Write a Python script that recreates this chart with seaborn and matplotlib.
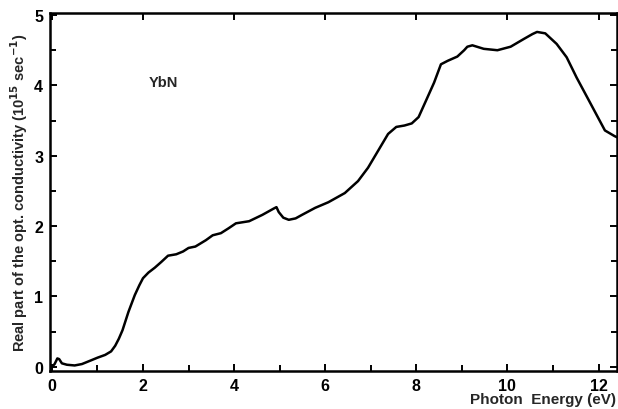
import matplotlib
matplotlib.use("Agg")
import matplotlib.pyplot as plt
from matplotlib.ticker import MultipleLocator
import numpy as np
import pandas as pd
import seaborn as sns

# Optical conductivity spectrum of YbN
energy_ev = [0.0, 0.06, 0.12, 0.16, 0.22, 0.33, 0.5, 0.66, 0.85, 1.0, 1.17, 1.3,
             1.39, 1.47, 1.55, 1.68, 1.82, 1.92, 2.0, 2.12, 2.26, 2.4, 2.55, 2.73,
             2.88, 3.0, 3.15, 3.38, 3.53, 3.71, 3.88, 4.04, 4.33, 4.62, 4.87, 4.93,
             4.98, 5.08, 5.2, 5.35, 5.49, 5.78, 6.07, 6.43, 6.72, 6.94, 7.16, 7.38,
             7.56, 7.74, 7.9, 8.05, 8.21, 8.39, 8.54, 8.69, 8.9, 9.05, 9.12, 9.23,
             9.48, 9.78, 10.07, 10.36, 10.55, 10.65, 10.83, 11.08, 11.3, 11.52,
             11.81, 12.14, 12.35, 12.45]
sigma_1 = [0.0, 0.04, 0.12, 0.11, 0.05, 0.03, 0.02, 0.04, 0.09, 0.13, 0.17, 0.22,
           0.30, 0.40, 0.52, 0.78, 1.02, 1.16, 1.26, 1.34, 1.41, 1.49, 1.58, 1.60,
           1.64, 1.69, 1.71, 1.80, 1.87, 1.90, 1.97, 2.04, 2.07, 2.16, 2.25, 2.27,
           2.20, 2.12, 2.09, 2.11, 2.16, 2.26, 2.34, 2.47, 2.64, 2.83, 3.07, 3.31,
           3.41, 3.43, 3.46, 3.55, 3.78, 4.04, 4.30, 4.35, 4.41, 4.50, 4.55, 4.57,
           4.52, 4.50, 4.55, 4.66, 4.73, 4.76, 4.74, 4.59, 4.40, 4.11, 3.76, 3.36,
           3.28, 3.25]

df = pd.DataFrame({"E": energy_ev, "s": sigma_1})

sns.set_theme(style="ticks")
plt.rcParams["font.family"] = ["Liberation Sans", "DejaVu Sans"]
plt.rcParams["font.weight"] = "bold"

fig = plt.figure(figsize=(6.18, 4.10), dpi=100)
ax = fig.add_axes([0.081, 0.093, 0.917, 0.873])

sns.lineplot(data=df, x="E", y="s", ax=ax, color="black", linewidth=1.8,
             estimator=None, sort=True, solid_joinstyle="round",
             solid_capstyle="round")

ax.set_xlim(-0.04, 12.4)
ax.set_ylim(-0.057, 5.03)

ax.xaxis.set_major_locator(MultipleLocator(2))
ax.xaxis.set_minor_locator(MultipleLocator(1))
ax.yaxis.set_major_locator(MultipleLocator(1))
ax.yaxis.set_minor_locator(MultipleLocator(0.5))

ax.tick_params(which="both", direction="in", top=True, right=True,
               labelsize=11.5, width=1.4, color="black", labelcolor="black")
ax.tick_params(which="major", length=5, pad=5)
ax.tick_params(which="minor", length=4, top=False)
ax.set_xticklabels([str(int(t)) for t in ax.get_xticks()], fontweight="bold")

for sp in ax.spines.values():
    sp.set_linewidth(1.8)
    sp.set_color("black")

ax.set_xlabel("Photon  Energy (eV)", fontsize=11, fontweight="bold",
              ha="right", va="top")
ax.xaxis.set_label_coords(0.998, -0.058)
ax.set_ylabel("Real part of the opt. conductivity (10$^{\\mathbf{15}}$ sec$^{\\mathbf{-1}}$)",
              fontsize=10.5, fontweight="bold", labelpad=3)

ax.text(2.12, 4.05, "YbN", fontsize=10.5, fontweight="bold",
        ha="left", va="center")

fig.savefig("out.png", dpi=100, facecolor="white")
